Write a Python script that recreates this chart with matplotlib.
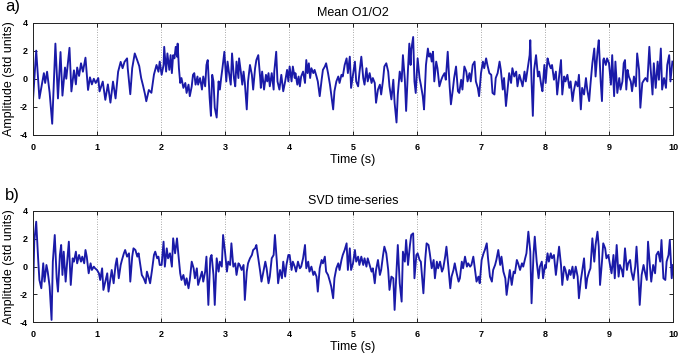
import matplotlib
matplotlib.use("Agg")
import matplotlib.pyplot as plt
import numpy as np

plt.rcParams['font.family'] = ['Liberation Sans', 'DejaVu Sans']

# ---- data: (time s, amplitude std units) ----
mean_0_2 = [(0.00,-1.5),(0.05,2.0),(0.10,-1.4),(0.17,0.4),(0.19,-0.3),(0.22,0.5),(0.26,-1.0),(0.30,-3.2),
            (0.35,2.5),(0.39,-1.4),(0.43,1.9),(0.46,-1.2),(0.50,0.8),(0.52,0.0),(0.57,2.2),(0.60,-0.9),
            (0.64,0.6),(0.67,-0.4),(0.69,0.8),(0.72,0.2),(0.75,1.1),(0.78,0.5),(0.82,1.5),(0.86,-0.8),
            (0.89,0.1),(0.92,-0.4),(0.95,0.0),(0.98,-0.3),(1.02,0.05),(1.04,-0.9),(1.09,-0.2),(1.13,-1.5),
            (1.17,-0.4),(1.21,-1.7),(1.25,-0.2),(1.29,-1.4),(1.33,0.5),(1.37,1.2),(1.40,0.75),(1.43,1.2),
            (1.47,1.45),(1.48,0.75),(1.52,-1.1),(1.55,0.75),(1.59,1.8),(1.63,1.3),(1.66,0.9),(1.69,0.05),
            (1.72,-0.5),(1.75,-1.1),(1.77,-1.6),(1.81,-0.8),(1.85,-1.0),(1.89,0.3),(1.93,0.98),(1.96,0.5),
            (1.98,1.22)]
mean_2_4 = [(2.01,0.28),(2.04,0.98),(2.05,2.27),(2.08,0.51),(2.10,1.80),(2.13,0.63),(2.15,1.68),(2.17,0.40),
            (2.19,1.68),(2.21,1.45),(2.23,2.27),(2.25,1.57),(2.26,2.50),(2.28,0.75),(2.30,-0.30),(2.32,0.05),
            (2.35,-0.65),(2.38,-0.30),(2.40,-1.01),(2.43,-0.42),(2.45,-1.24),(2.48,-0.54),(2.50,0.28),(2.52,0.40),
            (2.54,-0.42),(2.57,0.16),(2.58,-0.42),(2.61,0.05),(2.64,-0.77),(2.66,0.16),(2.69,-0.54),(2.71,0.98),
            (2.73,1.33),(2.76,-1.36),(2.78,-2.64),(2.80,0.28),(2.82,-0.19),(2.84,-2.06),(2.87,-2.76),(2.90,-0.19),
            (2.92,-0.77),(2.94,0.05),(2.96,0.75),(2.99,1.92),(3.02,-0.19),(3.04,1.22),(3.06,0.51),(3.09,-0.42),
            (3.11,1.80),(3.14,0.05),(3.16,-0.54),(3.18,1.22),(3.21,0.05),(3.22,1.45),(3.25,0.40),(3.27,-0.42),
            (3.29,0.51),(3.31,-0.30),(3.34,-2.18),(3.36,-0.19),(3.39,0.98),(3.42,0.28),(3.44,-0.77),(3.47,0.75),
            (3.49,1.33),(3.52,1.68),(3.55,0.05),(3.56,-0.65),(3.58,0.51),(3.61,-0.77),(3.64,0.28),(3.66,-0.19),
            (3.68,0.40),(3.70,-0.54),(3.73,0.40),(3.76,-0.77),(3.77,0.51),(3.80,1.92),(3.82,-0.19),(3.85,-0.77),
            (3.88,0.28),(3.91,-0.89),(3.94,-0.19),(3.97,0.63),(3.99,-0.19)]
mean_4_6 = [(4.01,0.87),(4.04,-0.19),(4.06,0.87),(4.09,0.05),(4.10,0.40),(4.13,-0.42),(4.15,0.16),(4.17,-0.54),
            (4.19,0.16),(4.22,0.51),(4.25,-0.30),(4.27,1.33),(4.29,0.40),(4.31,1.10),(4.33,0.05),(4.35,0.75),
            (4.38,0.40),(4.40,0.63),(4.43,0.16),(4.45,-0.19),(4.48,-1.24),(4.51,-0.07),(4.53,0.63),(4.56,0.87),
            (4.58,1.10),(4.61,0.40),(4.64,-0.42),(4.66,-1.12),(4.69,-2.18),(4.71,-0.89),(4.74,-0.19),(4.77,0.16),
            (4.79,-0.30),(4.82,0.28),(4.84,0.16),(4.87,0.98),(4.90,1.45),(4.92,0.40),(4.95,1.57),(4.97,-0.65),
            (5.00,0.28),(5.03,1.22),(5.05,-0.19),(5.08,-0.54),(5.10,0.40),(5.13,1.57),(5.16,0.05),(5.18,-0.42),
            (5.21,0.75),(5.23,-0.19),(5.26,0.40),(5.29,-0.30),(5.31,0.05),(5.34,-0.30),(5.36,-1.71),(5.39,-0.77),
            (5.42,-0.42),(5.44,-1.12),(5.47,-0.07),(5.49,0.87),(5.52,1.10),(5.55,0.51),(5.57,-0.54),(5.60,-1.47),
            (5.63,-0.07),(5.65,-1.71),(5.68,-3.11),(5.70,-1.12),(5.73,0.51),(5.76,-0.19),(5.78,1.68),(5.81,-0.07),
            (5.83,-2.29),(5.86,0.75),(5.88,2.50),(5.90,0.98),(5.91,2.04),(5.94,2.97),(5.96,-0.19),(5.98,-1.01)]
mean_6_8 = [(6.01,1.45),(6.04,0.05),(6.06,-0.42),(6.09,-1.24),(6.11,-2.18),(6.14,0.98),(6.17,2.15),(6.19,1.57),
            (6.21,1.80),(6.23,1.22),(6.25,1.92),(6.27,-0.19),(6.30,1.22),(6.32,0.75),(6.35,-0.54),(6.38,-0.07),
            (6.40,0.16),(6.43,0.40),(6.45,-0.07),(6.48,1.92),(6.51,-0.54),(6.53,-1.82),(6.56,-0.77),(6.58,0.05),
            (6.61,0.87),(6.64,-0.89),(6.66,-1.01),(6.69,-0.07),(6.71,-0.77),(6.74,0.87),(6.77,0.51),(6.79,-0.19),
            (6.82,0.40),(6.84,-0.19),(6.87,0.98),(6.90,1.22),(6.92,-0.19),(6.95,-0.65),(6.97,-1.24),(7.00,0.40),
            (7.03,1.22),(7.05,0.75),(7.08,1.45),(7.10,0.98),(7.13,0.40),(7.16,0.28),(7.18,-1.01),(7.21,-1.12),
            (7.23,0.05),(7.26,0.40),(7.29,1.22),(7.31,0.63),(7.34,-0.77),(7.36,0.05),(7.39,-1.94),(7.42,-0.54),
            (7.44,0.40),(7.47,-0.30),(7.49,0.75),(7.52,0.16),(7.55,0.51),(7.57,-0.54),(7.60,0.28),(7.63,-0.19),
            (7.65,-0.54),(7.68,0.51),(7.70,-0.19),(7.73,0.75),(7.76,1.68),(7.77,2.74),(7.79,-0.19),(7.81,-2.64),
            (7.83,0.63),(7.86,1.68),(7.89,0.16),(7.91,0.51),(7.94,-0.42),(7.96,-0.89),(7.99,0.98)]
mean_8_10 = [(8.01,-0.30),(8.04,1.45),(8.06,1.10),(8.09,0.75),(8.11,0.98),(8.14,-0.07),(8.17,0.51),(8.19,-1.12),
             (8.22,0.16),(8.25,1.33),(8.27,-1.12),(8.30,0.16),(8.32,-0.19),(8.35,0.28),(8.38,-0.65),(8.40,-0.19),
             (8.43,-1.59),(8.45,-0.89),(8.48,-0.19),(8.51,-0.54),(8.53,0.28),(8.56,-2.18),(8.58,-0.65),(8.61,-1.12),
             (8.64,0.05),(8.66,-0.77),(8.69,-1.59),(8.71,-0.42),(8.74,1.10),(8.77,2.15),(8.79,0.16),(8.82,1.92),
             (8.84,2.74),(8.87,-0.19),(8.89,-1.59),(8.91,1.33),(8.92,1.45),(8.95,0.98),(8.97,1.45),(9.00,1.10),
             (9.03,-0.42),(9.05,1.68),(9.08,-1.24),(9.10,1.22),(9.13,-1.01),(9.16,0.05),(9.18,-0.77),(9.21,-0.19),
             (9.23,1.10),(9.25,1.33),(9.27,-0.77),(9.29,0.63),(9.31,0.16),(9.34,-0.19),(9.36,-0.89),(9.39,0.16),
             (9.42,-0.54),(9.44,1.80),(9.47,0.63),(9.49,-2.06),(9.52,-0.30),(9.55,-0.07),(9.57,0.05),(9.60,-0.19),
             (9.63,2.27),(9.65,0.75),(9.68,-1.12),(9.70,1.10),(9.73,-0.65),(9.76,1.22),(9.78,-0.07),(9.81,2.15),
             (9.83,-0.77),(9.86,0.05),(9.89,-0.65),(9.91,0.98),(9.94,1.68),(9.96,-0.19),(9.99,1.22)]

svd_0_2 = [(0.00,-2.05),(0.02,1.79),(0.05,3.23),(0.08,0.59),(0.10,-0.97),(0.13,-1.57),(0.16,0.23),(0.18,-1.09),
           (0.21,0.11),(0.23,-0.37),(0.26,-1.45),(0.29,-3.85),(0.31,0.35),(0.34,2.27),(0.37,-0.85),(0.39,-1.81),
           (0.42,0.83),(0.44,1.55),(0.46,-0.61),(0.48,1.07),(0.51,-1.09),(0.54,0.71),(0.56,1.79),(0.59,-1.33),
           (0.62,0.59),(0.64,0.35),(0.67,1.07),(0.69,0.23),(0.72,0.83),(0.75,0.35),(0.77,0.71),(0.80,0.23),
           (0.82,1.19),(0.84,0.71),(0.87,-0.49),(0.90,0.23),(0.92,-0.25),(0.95,-0.01),(0.97,-0.13),(1.00,-0.25),
           (1.03,-0.49),(1.05,-0.97),(1.08,-0.13),(1.10,-1.69),(1.13,-1.09),(1.16,-0.49),(1.18,-1.81),(1.21,-0.85),
           (1.23,-0.25),(1.26,-1.21),(1.29,0.11),(1.31,0.59),(1.34,-0.85),(1.37,0.11),(1.39,0.47),(1.42,0.95),
           (1.44,1.19),(1.47,0.71),(1.50,0.95),(1.52,-1.09),(1.55,0.71),(1.57,1.31),(1.60,1.19),(1.63,0.71),
           (1.65,0.95),(1.68,-0.01),(1.70,-0.61),(1.73,-0.85),(1.76,-1.21),(1.78,-0.37),(1.81,-0.85),(1.83,-1.21),
           (1.86,-0.25),(1.89,0.83),(1.91,1.07),(1.94,0.59),(1.96,0.71),(1.98,0.11)]
svd_2_4 = [(2.01,0.11),(2.04,1.79),(2.06,-0.01),(2.09,1.31),(2.11,0.59),(2.14,0.95),(2.17,-0.01),(2.19,2.03),
           (2.22,0.95),(2.25,2.03),(2.27,0.95),(2.30,-0.49),(2.32,-0.97),(2.35,-0.61),(2.38,-1.33),(2.40,-0.85),
           (2.43,-1.57),(2.45,-0.97),(2.48,0.35),(2.51,-0.13),(2.53,-0.85),(2.56,-0.13),(2.58,-1.33),(2.61,-0.85),
           (2.64,-0.37),(2.66,-1.09),(2.69,-0.37),(2.71,0.71),(2.74,-2.77),(2.77,0.59),(2.79,0.83),(2.82,-0.61),
           (2.84,-2.77),(2.87,0.59),(2.90,-0.37),(2.92,0.35),(2.95,-0.01),(2.97,2.27),(3.00,1.07),(3.03,-0.37),
           (3.05,0.35),(3.08,0.11),(3.10,1.67),(3.13,-0.01),(3.16,0.23),(3.18,-0.61),(3.21,0.23),(3.23,0.11),
           (3.26,-0.25),(3.29,0.11),(3.31,-2.41),(3.34,-0.37),(3.36,0.23),(3.39,0.59),(3.42,0.83),(3.44,1.19),
           (3.47,1.31),(3.49,1.55),(3.52,0.59),(3.55,-0.37),(3.57,-1.09),(3.60,-0.37),(3.63,0.35),(3.65,-0.13),
           (3.68,-1.21),(3.70,-0.73),(3.73,0.59),(3.76,0.83),(3.78,2.27),(3.81,0.35),(3.83,-1.21),(3.86,-0.25),
           (3.89,-0.85),(3.91,0.35),(3.94,-0.73),(3.96,0.11),(3.99,0.83)]
svd_4_6 = [(4.01,0.83),(4.04,-0.25),(4.06,0.35),(4.09,-0.01),(4.11,-0.37),(4.14,0.35),(4.17,-0.13),(4.19,-0.01),
           (4.22,0.59),(4.25,1.55),(4.27,-0.13),(4.30,0.35),(4.32,-0.37),(4.35,-0.01),(4.38,-0.61),(4.40,-0.37),
           (4.43,-0.73),(4.45,-1.81),(4.48,-0.13),(4.51,0.47),(4.53,0.23),(4.56,0.71),(4.58,-0.37),(4.61,-0.61),
           (4.64,-1.09),(4.66,-1.45),(4.69,-2.29),(4.71,-0.85),(4.74,-0.13),(4.77,0.23),(4.79,-0.25),(4.82,0.47),
           (4.84,0.83),(4.87,1.19),(4.90,1.67),(4.92,-0.25),(4.95,1.31),(4.97,-0.25),(5.00,0.23),(5.03,1.19),
           (5.05,0.35),(5.08,0.71),(5.10,0.11),(5.13,0.71),(5.16,0.11),(5.18,0.59),(5.21,-0.01),(5.23,0.59),
           (5.26,0.11),(5.29,-0.37),(5.31,-0.13),(5.34,-1.21),(5.36,-0.25),(5.39,0.47),(5.42,-0.61),(5.44,-0.25),
           (5.47,0.83),(5.49,1.43),(5.52,0.95),(5.55,-0.25),(5.57,-1.69),(5.60,-0.73),(5.63,-0.85),(5.65,-3.13),
           (5.68,-0.37),(5.70,1.55),(5.73,-1.21),(5.76,-2.53),(5.78,1.07),(5.81,0.35),(5.83,1.91),(5.86,0.11),
           (5.89,1.55),(5.91,2.27),(5.94,2.39),(5.96,-0.85),(5.99,0.83)]
svd_6_8 = [(6.01,0.95),(6.04,0.47),(6.06,0.35),(6.09,-1.33),(6.10,-1.93),(6.13,0.59),(6.15,1.67),(6.18,1.55),
           (6.20,0.95),(6.23,-0.13),(6.26,0.47),(6.28,-0.85),(6.31,0.35),(6.33,-0.13),(6.36,0.35),(6.39,-0.37),
           (6.41,-0.13),(6.44,0.71),(6.46,1.43),(6.49,-0.01),(6.52,-1.57),(6.54,-0.73),(6.57,-0.25),(6.59,0.23),
           (6.62,-0.49),(6.65,-1.09),(6.67,-0.85),(6.70,0.35),(6.72,-0.13),(6.75,0.71),(6.78,-0.01),(6.80,0.23),
           (6.83,-0.01),(6.85,0.11),(6.88,0.71),(6.91,-0.37),(6.93,-1.09),(6.96,-0.73),(6.98,-1.21),(7.01,0.47),
           (7.04,0.95),(7.06,1.19),(7.09,1.67),(7.11,0.59),(7.14,-0.73),(7.17,-1.09),(7.19,-0.25),(7.22,0.11),
           (7.24,0.47),(7.27,1.19),(7.30,0.11),(7.32,0.71),(7.35,-0.37),(7.38,-0.85),(7.40,-2.05),(7.43,-0.97),
           (7.45,-0.25),(7.48,-1.33),(7.51,-0.37),(7.53,-0.49),(7.56,0.47),(7.58,0.23),(7.61,-0.25),(7.64,0.23),
           (7.66,-0.01),(7.69,0.59),(7.71,0.95),(7.74,2.51),(7.77,1.07),(7.79,-2.65),(7.82,0.83),(7.84,2.15),
           (7.87,0.35),(7.90,-0.85),(7.92,-0.01),(7.95,0.35),(7.97,-0.85),(8.00,0.11)]
svd_8_10 = [(8.01,-0.13),(8.04,0.95),(8.06,0.35),(8.09,0.95),(8.11,0.59),(8.14,0.83),(8.17,-0.61),(8.19,0.23),
            (8.22,1.43),(8.25,0.11),(8.27,-1.33),(8.30,-0.01),(8.32,-0.25),(8.35,-0.97),(8.38,-0.25),(8.40,-0.61),
            (8.43,-0.01),(8.45,-0.85),(8.48,-0.01),(8.51,-0.73),(8.53,-2.29),(8.56,-0.97),(8.58,-0.37),(8.61,0.59),
            (8.64,-1.57),(8.66,-0.85),(8.69,-0.37),(8.71,-0.13),(8.74,2.03),(8.77,0.35),(8.79,1.55),(8.82,2.51),
            (8.84,1.43),(8.86,-1.33),(8.89,0.35),(8.91,1.67),(8.94,1.31),(8.96,0.59),(8.99,0.83),(9.02,-0.01),
            (9.04,-0.49),(9.07,0.83),(9.09,-0.85),(9.12,1.55),(9.15,-0.73),(9.17,0.11),(9.20,-0.25),(9.22,-0.73),
            (9.25,1.31),(9.28,-0.25),(9.30,0.23),(9.33,0.47),(9.35,-0.37),(9.38,-0.97),(9.41,-0.01),(9.43,1.43),
            (9.46,-0.85),(9.48,-2.77),(9.51,-0.61),(9.54,0.11),(9.56,-0.37),(9.59,-0.97),(9.61,1.79),(9.64,-0.01),
            (9.66,-1.09),(9.69,0.11),(9.72,-0.49),(9.74,0.83),(9.77,1.07),(9.80,0.35),(9.82,1.91),(9.85,-0.85),
            (9.88,-0.97),(9.90,0.35),(9.93,0.83),(9.95,1.91),(9.98,-0.85),(10.00,0.11)]

x_ticks = [0, 1, 2, 3, 4, 5, 6, 7, 8, 9, 10]
y_ticks = [-4, -2, 0, 2, 4]
titles = ["Mean O1/O2", "SVD time-series"]
panel_labels = ["a)", "b)"]
x_label = "Time (s)"
y_label = "Amplitude (std units)"

series = [mean_0_2 + mean_2_4 + mean_4_6 + mean_6_8 + mean_8_10,
          svd_0_2 + svd_2_4 + svd_4_6 + svd_6_8 + svd_8_10]

W, H = 682, 353
fig = plt.figure(figsize=(W / 100, H / 100), dpi=100)
fig.patch.set_facecolor('white')

boxes = [(33, 22.5, 673, 135), (33, 211, 673, 322)]  # left, top, right, bottom in px
line_color = '#1a1aa8'

for k in range(2):
    l, t, r, b = boxes[k]
    ax = fig.add_axes([l / W, 1 - b / H, (r - l) / W, (b - t) / H])
    data = np.array(series[k])
    ax.plot(data[:, 0], data[:, 1], color=line_color, lw=1.35, solid_joinstyle='round')
    ax.set_xlim(0, 10)
    ax.set_ylim(-4, 4)
    ax.set_xticks(x_ticks)
    ax.set_yticks(y_ticks)
    ax.set_xticklabels([str(v) for v in x_ticks], fontsize=6.5, fontweight='bold')
    ax.set_yticklabels([str(v) for v in y_ticks], fontsize=6.5, fontweight='bold')
    ax.tick_params(direction='in', top=True, right=True, length=3, width=0.6)
    ax.tick_params(axis='x', pad=6)
    ax.tick_params(axis='y', pad=4)
    ax.xaxis.grid(True, linestyle=(0, (1, 2)), color='#8c8c8c', lw=0.6)
    for s in ax.spines.values():
        s.set_linewidth(0.7)
        s.set_color('#222222')
    ax.set_xlabel(x_label, fontsize=9, labelpad=1)
    ax.set_ylabel(y_label, fontsize=9, labelpad=3)
    ax.set_title(titles[k], fontsize=9, pad=5)
    fig.text(5 / W, 1 - (t - 8) / H, panel_labels[k], fontsize=12, va='bottom', ha='left')

fig.savefig('out.png', dpi=100, facecolor='white')
